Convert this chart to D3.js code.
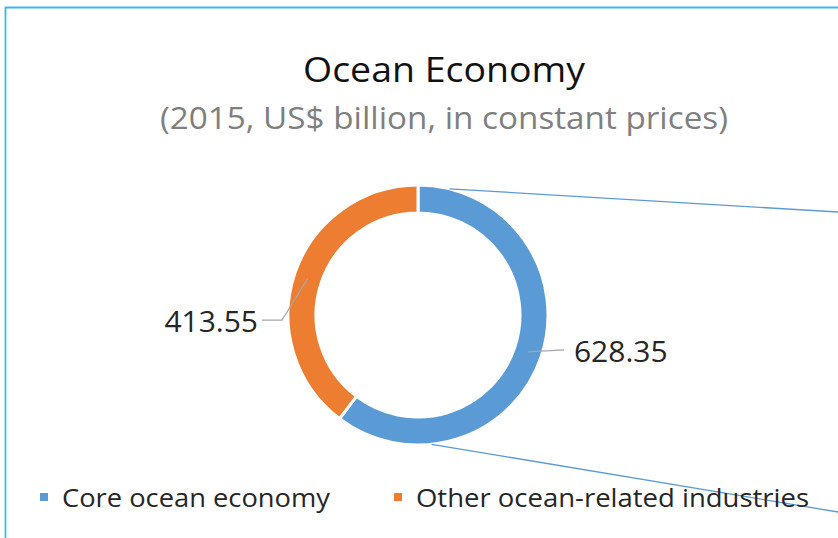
<!DOCTYPE html>
<html>
<head>
<meta charset="utf-8">
<script src="https://cdn.jsdelivr.net/npm/d3@7"></script>
<style>
  body { margin: 0; background: #fff; }
  svg { display: block; font-family: "Open Sans", "Noto Sans", sans-serif; }
</style>
</head>
<body>
<div id="chart-container" style="width:838px;height:538px"></div>
<script>
const chartContainer = document.getElementById("chart-container");

const categories = ["Core ocean economy", "Other ocean-related industries"];
const values = [628.35, 413.55];
const valueLabels = ["628.35", "413.55"];
const colors = ["#5b9bd5", "#ed7d31"];

const width = 838;
const height = 538;
const cx = 418, cy = 315;
const outerR = 130, innerR = 102;

const svg = d3
  .select(chartContainer)
  .append("svg")
  .attr("width", width)
  .attr("height", height);

// chart area frame (only left and top visible in the crop)
svg.append("path")
  .attr("d", `M5.5,${height} V7.5 H${width}`)
  .attr("fill", "none")
  .attr("stroke", "#35b8f3")
  .attr("stroke-width", 1.8);

svg.append("text")
  .attr("x", 303)
  .attr("y", 82)
  .attr("font-size", 35)
  .attr("fill", "#111")
  .attr("textLength", 282)
  .attr("lengthAdjust", "spacingAndGlyphs")
  .text("Ocean Economy");

svg.append("text")
  .attr("x", 160)
  .attr("y", 129)
  .attr("font-size", 31)
  .attr("fill", "#7f7f7f")
  .attr("textLength", 568)
  .attr("lengthAdjust", "spacingAndGlyphs")
  .text("(2015, US$ billion, in constant prices)");

const pie = d3.pie().sort(null).value((d) => d);
const arcs = pie(values);

const arc = d3.arc().innerRadius(innerR).outerRadius(outerR);
const midArc = d3.arc().innerRadius(116).outerRadius(116);

const graph = svg.append("g").attr("transform", `translate(${cx}, ${cy})`);

graph
  .selectAll("path.slice")
  .data(arcs)
  .enter()
  .append("path")
  .attr("class", "slice")
  .attr("d", arc)
  .attr("fill", (d, i) => colors[i])
  .attr("stroke", "#fff")
  .attr("stroke-width", 3);

// connector lines heading off to the right
const angleToPoint = (a) => [outerR * Math.sin(a), -outerR * Math.cos(a)];
const connectors = [
  { a: (14 * Math.PI) / 180, end: [width - cx, 212 - cy] },
  { a: (174 * Math.PI) / 180, end: [width - cx, 512 - cy] },
];
graph
  .selectAll("line.conn")
  .data(connectors)
  .enter()
  .append("line")
  .attr("class", "conn")
  .attr("x1", (d) => angleToPoint(d.a)[0])
  .attr("y1", (d) => angleToPoint(d.a)[1])
  .attr("x2", (d) => d.end[0])
  .attr("y2", (d) => d.end[1])
  .attr("stroke", "#5b9bd5")
  .attr("stroke-width", 1.3);

// data labels with leader lines
const leaders = [
  { bend: [36, -2], end: [36, -2], tx: 46, anchor: "start" },
  { bend: [-26, 42], end: [-46, 42], tx: -50, anchor: "end" },
];

arcs.forEach((d, i) => {
  const c = midArc.centroid(d);
  const L = leaders[i];
  const p1 = [c[0] + L.bend[0], c[1] + L.bend[1]];
  const p2 = [c[0] + L.end[0], c[1] + L.end[1]];
  graph.append("path")
    .attr("d", d3.line()([c, p1, p2]))
    .attr("fill", "none")
    .attr("stroke", "#a6a6a6")
    .attr("stroke-width", 1.2);
  graph.append("text")
    .attr("x", c[0] + L.tx)
    .attr("y", p2[1] + 12)
    .attr("text-anchor", L.anchor)
    .attr("font-size", 30)
    .attr("fill", "#262626")
    .text(valueLabels[i]);
});

// legend
const legendX = [40, 394];
const legendW = [268, 393];
const legend = svg
  .selectAll("g.legend")
  .data(categories)
  .enter()
  .append("g")
  .attr("class", "legend")
  .attr("transform", (d, i) => `translate(${legendX[i]}, 497)`);

legend.append("rect")
  .attr("x", 0)
  .attr("y", -4)
  .attr("width", 8)
  .attr("height", 8)
  .attr("fill", (d, i) => colors[i]);

legend.append("text")
  .attr("x", 22)
  .attr("y", 10)
  .attr("font-size", 25)
  .attr("fill", "#262626")
  .attr("textLength", (d, i) => legendW[i])
  .attr("lengthAdjust", "spacingAndGlyphs")
  .text((d) => d);
</script>
</body>
</html>
